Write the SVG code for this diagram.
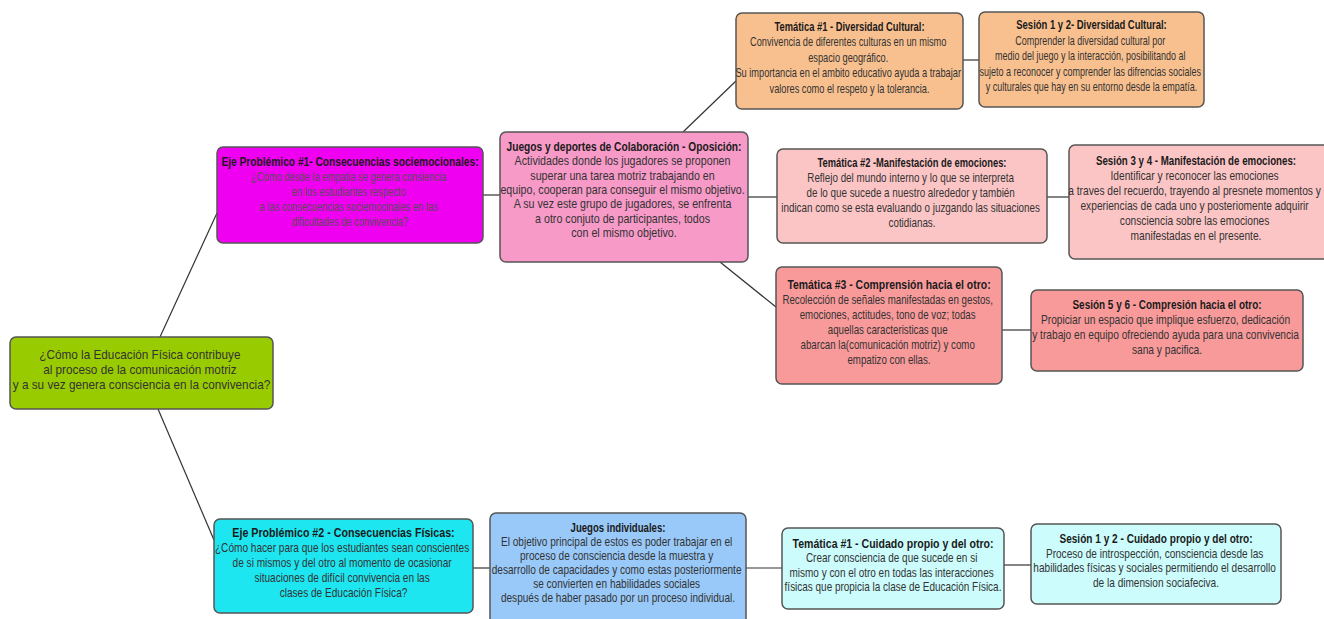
<svg xmlns="http://www.w3.org/2000/svg" width="1324" height="619" viewBox="0 0 1324 619">
<style>
  .box { stroke: #555555; stroke-width: 1.5; }
  text { font-family: "Liberation Sans", Arial, sans-serif; font-size: 12px; text-anchor: middle; fill: #333333; }
  .t { font-weight: bold; fill: #1a1a1a; }
  .dim { fill: #5a4a5a; }
  .conn line { stroke: #333333; stroke-width: 1.2; fill: none; }
</style>
<rect x="0" y="0" width="1324" height="619" fill="#ffffff"/>

<g class="conn" id="connectors">
  <line x1="160" y1="337" x2="217" y2="213"/>
  <line x1="158" y1="409" x2="214" y2="540"/>
  <line x1="483" y1="195" x2="500" y2="195"/>
  <line x1="683" y1="132" x2="737" y2="80"/>
  <line x1="748" y1="197" x2="777" y2="197"/>
  <line x1="720" y1="262" x2="776" y2="307"/>
  <line x1="963" y1="60" x2="979" y2="60"/>
  <line x1="1047" y1="197" x2="1069" y2="197"/>
  <line x1="1002" y1="330" x2="1031" y2="330"/>
  <line x1="473" y1="568" x2="490" y2="568"/>
  <line x1="746" y1="568" x2="782" y2="568"/>
  <line x1="1004" y1="565" x2="1031" y2="565"/>
</g>

<g id="n-root">
  <rect class="box" x="10" y="337" width="263" height="72" rx="6" fill="#99cc00"/>
  <text transform="translate(141.5 0) scale(0.98 1)" fill="#2a2a2a">
    <tspan x="0" y="359">¿Cómo la Educación Física contribuye</tspan>
    <tspan x="0" y="374">al proceso de la comunicación motriz</tspan>
    <tspan x="0" y="389">y a su vez genera consciencia en la convivencia?</tspan>
  </text>
</g>

<g id="n-eje1">
  <rect class="box" x="217" y="147" width="266" height="96" rx="6" fill="#f000f0"/>
  <text class="t" transform="translate(350 0) scale(0.85 1)"><tspan x="0" y="166">Eje Problémico #1- Consecuencias sociemocionales:</tspan></text>
  <text class="dim" transform="translate(350 0) scale(0.78 1)">
    <tspan x="0" y="181">¿Cómo desde la empatia se genera consiencia</tspan>
    <tspan x="0" y="196">en los estudiantes respecto</tspan>
    <tspan x="0" y="211">a las consecuencias sociemocinales en las</tspan>
    <tspan x="0" y="226">dificultades de convivencia?</tspan>
  </text>
</g>

<g id="n-colab">
  <rect class="box" x="500" y="132" width="248" height="130" rx="6" fill="#f79ac8"/>
  <text class="t" transform="translate(624 0) scale(0.85 1)"><tspan x="0" y="151">Juegos y deportes de Colaboración - Oposición:</tspan></text>
  <text transform="translate(624 0) scale(0.89 1)">
    <tspan x="0" y="165">Actividades donde los jugadores se proponen</tspan>
    <tspan x="0" y="180">superar una tarea motriz trabajando en</tspan>
    <tspan x="0" y="194">equipo, cooperan para conseguir el mismo objetivo.</tspan>
    <tspan x="0" y="208">A su vez este grupo de jugadores, se enfrenta</tspan>
    <tspan x="0" y="223">a otro conjuto de participantes, todos</tspan>
    <tspan x="0" y="237">con el mismo objetivo.</tspan>
  </text>
</g>

<g id="n-tem1">
  <rect class="box" x="736" y="13" width="227" height="96" rx="6" fill="#f9c08f"/>
  <text class="t" transform="translate(849.5 0) scale(0.78 1)"><tspan x="0" y="31">Temática #1 - Diversidad Cultural:</tspan></text>
  <text transform="translate(849.5 0) scale(0.77 1)">
    <tspan x="0" y="46.5">Convivencia de diferentes culturas en un mismo</tspan>
    <tspan x="0" y="62">espacio geográfico.</tspan>
    <tspan x="0" y="77.5">Su importancia en el ambito educativo ayuda a trabajar</tspan>
    <tspan x="0" y="93">valores como el respeto y la tolerancia.</tspan>
  </text>
</g>

<g id="n-ses12">
  <rect class="box" x="979" y="12" width="225" height="95" rx="6" fill="#f9c08f"/>
  <text class="t" transform="translate(1091.5 0) scale(0.79 1)"><tspan x="0" y="29.5">Sesión 1 y 2- Diversidad Cultural:</tspan></text>
  <text transform="translate(1091.5 0) scale(0.75 1)">
    <tspan x="0" y="45">Comprender la diversidad cultural por</tspan>
    <tspan x="0" y="60.5">medio del juego y la interacción, posibilitando al</tspan>
    <tspan x="0" y="76">sujeto a reconocer y comprender las difrencias sociales</tspan>
    <tspan x="0" y="91.5">y culturales que hay en su entorno desde la empatía.</tspan>
  </text>
</g>

<g id="n-tem2">
  <rect class="box" x="777" y="149" width="270" height="94" rx="6" fill="#fcc5c5"/>
  <text class="t" transform="translate(912 0) scale(0.78 1)"><tspan x="0" y="167">Temática #2 -Manifestación de emociones:</tspan></text>
  <text transform="translate(912 0) scale(0.82 1)">
    <tspan x="0" y="182">Reflejo del mundo interno y lo que se interpreta</tspan>
    <tspan x="0" y="197">de lo que sucede a nuestro alrededor y también</tspan>
    <tspan x="0" y="212">indican como se esta evaluando o juzgando las situaciones</tspan>
    <tspan x="0" y="227">cotidianas.</tspan>
  </text>
</g>

<g id="n-ses34">
  <rect class="box" x="1069" y="145" width="260" height="114" rx="6" fill="#fcc5c5"/>
  <text class="t" transform="translate(1196 0) scale(0.81 1)"><tspan x="0" y="165.5">Sesión 3 y 4 - Manifestación de emociones:</tspan></text>
  <text transform="translate(1196 0) scale(0.85 1)">
    <tspan x="0" y="180.5">Identificar y reconocer las emociones</tspan>
    <tspan x="0" y="195.5">a traves del recuerdo, trayendo al presnete momentos y</tspan>
    <tspan x="0" y="210.5">experiencias de cada uno y posteriomente adquirir</tspan>
    <tspan x="0" y="225.5">consciencia sobre las emociones</tspan>
    <tspan x="0" y="240.5">manifestadas en el presente.</tspan>
  </text>
</g>

<g id="n-tem3">
  <rect class="box" x="776" y="267" width="226" height="117" rx="6" fill="#f99a9a"/>
  <text class="t" transform="translate(889 0) scale(0.87 1)"><tspan x="0" y="289">Temática #3 - Comprensión hacia el otro:</tspan></text>
  <text transform="translate(889 0) scale(0.81 1)">
    <tspan x="0" y="304">Recolección de señales manifestadas en gestos,</tspan>
    <tspan x="0" y="319">emociones, actitudes, tono de voz; todas</tspan>
    <tspan x="0" y="334">aquellas caracteristicas que</tspan>
    <tspan x="0" y="349">abarcan la(comunicación motriz) y como</tspan>
    <tspan x="0" y="364">empatizo con ellas.</tspan>
  </text>
</g>

<g id="n-ses56">
  <rect class="box" x="1031" y="290" width="272" height="81" rx="6" fill="#f99a9a"/>
  <text class="t" transform="translate(1167 0) scale(0.83 1)"><tspan x="0" y="309">Sesión 5 y 6 - Compresión hacia el otro:</tspan></text>
  <text transform="translate(1167 0) scale(0.85 1)">
    <tspan x="0" y="324">Propiciar un espacio que implique esfuerzo, dedicación</tspan>
    <tspan x="0" y="339">y trabajo en equipo ofreciendo ayuda para una convivencia</tspan>
    <tspan x="0" y="354">sana y pacifica.</tspan>
  </text>
</g>

<g id="n-eje2">
  <rect class="box" x="214" y="519" width="259" height="94" rx="6" fill="#1de6f0"/>
  <text class="t" transform="translate(343.5 0) scale(0.89 1)"><tspan x="0" y="537">Eje Problémico #2 - Consecuencias Físicas:</tspan></text>
  <text transform="translate(343.5 0) scale(0.84 1)">
    <tspan x="0" y="552">¿Cómo hacer para que los estudiantes sean conscientes</tspan>
    <tspan x="0" y="567">de si mismos y del otro al momento de ocasionar</tspan>
    <tspan x="0" y="582">situaciones de difícil convivencia en las</tspan>
    <tspan x="0" y="597">clases de Educación Física?</tspan>
  </text>
</g>

<g id="n-indiv">
  <rect class="box" x="490" y="513" width="256" height="116" rx="6" fill="#99c9f9"/>
  <text class="t" transform="translate(618 0) scale(0.8 1)"><tspan x="0" y="532">Juegos individuales:</tspan></text>
  <text transform="translate(618 0) scale(0.84 1)">
    <tspan x="0" y="546">El objetivo principal de estos es poder trabajar en el</tspan>
    <tspan x="0" y="560">proceso de consciencia desde la muestra y</tspan>
    <tspan x="0" y="574">desarrollo de capacidades y como estas posteriormente</tspan>
    <tspan x="0" y="588">se convierten en habilidades sociales</tspan>
    <tspan x="0" y="602">después de haber pasado por un proceso individual.</tspan>
  </text>
</g>

<g id="n-tem-cuidado">
  <rect class="box" x="782" y="528" width="222" height="81" rx="6" fill="#ccfcfc"/>
  <text class="t" transform="translate(893 0) scale(0.88 1)"><tspan x="0" y="548">Temática #1 - Cuidado propio y del otro:</tspan></text>
  <text transform="translate(893 0) scale(0.83 1)">
    <tspan x="0" y="562">Crear consciencia de que sucede en si</tspan>
    <tspan x="0" y="577">mismo y con el otro en todas las interacciones</tspan>
    <tspan x="0" y="591">físicas que propicia la clase de Educación Física.</tspan>
  </text>
</g>

<g id="n-ses-cuidado">
  <rect class="box" x="1031" y="524" width="250" height="80" rx="6" fill="#ccfcfc"/>
  <text class="t" transform="translate(1156 0) scale(0.84 1)"><tspan x="0" y="543">Sesión 1 y 2 - Cuidado propio y del otro:</tspan></text>
  <text transform="translate(1156 0) scale(0.84 1)">
    <tspan x="0" y="558">Proceso de introspección, consciencia desde las</tspan>
    <tspan x="0" y="572">habilidades físicas y sociales permitiendo el desarrollo</tspan>
    <tspan x="0" y="587">de la dimension sociafeciva.</tspan>
  </text>
</g>
</svg>
